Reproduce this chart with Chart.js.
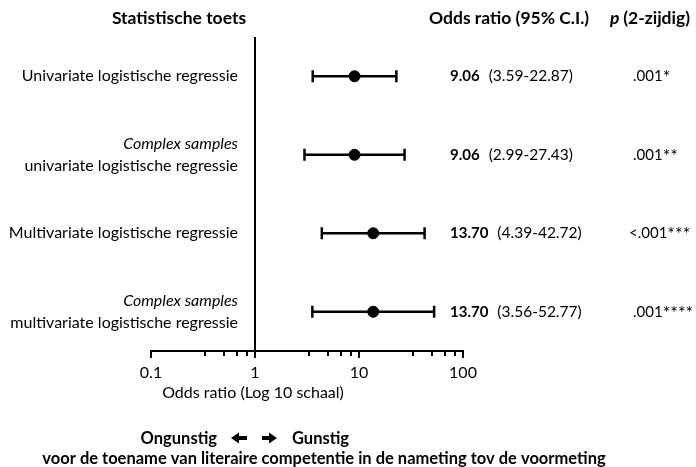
<!DOCTYPE html>
<html>
<head>
<meta charset="utf-8">
<script src="https://cdn.jsdelivr.net/npm/chart.js@4.4.1/dist/chart.umd.min.js"></script>
<style>
  body { margin: 0; background: #fff; }
  #wrap { width: 696px; height: 467px; }
</style>
</head>
<body>
<div id="wrap"><canvas id="forest"></canvas></div>
<script>
// data for the forest plot
const rowTitles = ["", "Complex samples", "", "Complex samples"];
const rowLabels = [
    "Univariate logistische regressie",
    "univariate logistische regressie",
    "Multivariate logistische regressie",
    "multivariate logistische regressie"
];
const oddsRatios = [9.06, 9.06, 13.70, 13.70];
const ciLow = [3.59, 2.99, 4.39, 3.56];
const ciHigh = [22.87, 27.43, 42.72, 52.77];
const pValues = [".001", ".001", "<.001", ".001"];
const pStars = ["*", "**", "***", "****"];

// x axis ticks (log scale)
const majorTicks = [0.1, 1, 10, 100];
const minorTicks = [0.33, 0.5, 0.67, 0.84, 3.3, 5, 6.7, 8.4, 33, 50, 67, 84];

const FONT = "Lato, 'Open Sans', sans-serif";
const REG = "16px " + FONT;
const BOLD = "bold 17.5px " + FONT;

// one dataset per row for the CI whiskers
const datasets = [];
for (let i = 0; i < oddsRatios.length; i++) {
    datasets.push({
        type: "line",
        data: [{ x: ciLow[i], y: i + 1 }, { x: ciHigh[i], y: i + 1 }],
        borderColor: "#000",
        borderWidth: 2.5,
        showLine: true,
        pointStyle: "line",
        rotation: 90,
        pointRadius: 6,
        pointBorderWidth: 2.5,
        pointBorderColor: "#000"
    });
}
// the odds ratio dots
datasets.push({
    type: "scatter",
    data: oddsRatios.map((v, i) => ({ x: v, y: i + 1 })),
    backgroundColor: "#000",
    borderColor: "#000",
    pointRadius: 5.5
});

// minor/major tick marks under the axis
const tickPlugin = {
    id: "tickMarks",
    afterDraw(chart) {
        const ctx = chart.ctx;
        const xs = chart.scales.x;
        const yAxis = chart.chartArea.bottom;
        ctx.save();
        ctx.strokeStyle = "#000";
        ctx.lineWidth = 2;
        majorTicks.concat(minorTicks).forEach(v => {
            const px = Math.round(xs.getPixelForValue(v));
            const len = majorTicks.includes(v) ? 7 : 5;
            ctx.beginPath();
            ctx.moveTo(px, yAxis);
            ctx.lineTo(px, yAxis + len);
            ctx.stroke();
        });
        ctx.restore();
    }
};

// thick arrow like the wingdings one, dir = -1 left, 1 right
function drawArrow(ctx, x0, x1, y, dir) {
    const tip = dir < 0 ? x0 : x1;
    const tail = dir < 0 ? x1 : x0;
    const head = tip - dir * 8;
    ctx.beginPath();
    ctx.moveTo(tail, y - 2);
    ctx.lineTo(head, y - 2);
    ctx.lineTo(head, y - 5.5);
    ctx.lineTo(tip, y);
    ctx.lineTo(head, y + 5.5);
    ctx.lineTo(head, y + 2);
    ctx.lineTo(tail, y + 2);
    ctx.closePath();
    ctx.fill();
}

// all the table text around the plot
const textPlugin = {
    id: "tableText",
    afterDraw(chart) {
        const ctx = chart.ctx;
        const ys = chart.scales.y;
        ctx.save();
        ctx.fillStyle = "#000";
        ctx.textBaseline = "middle";

        // headers
        ctx.font = BOLD;
        ctx.textAlign = "center";
        ctx.fillText("Statistische toets", 179, 18);
        ctx.textAlign = "left";
        ctx.fillText("Odds ratio (95% C.I.)", 429, 18);
        ctx.font = "italic " + BOLD;
        ctx.fillText("p", 610, 18);
        const pw = ctx.measureText("p ").width;
        ctx.font = BOLD;
        ctx.fillText("(2-zijdig)", 610 + pw, 18);

        for (let i = 0; i < rowLabels.length; i++) {
            const y = ys.getPixelForValue(i + 1);

            // row labels
            ctx.textAlign = "right";
            if (rowTitles[i]) {
                ctx.font = "italic " + REG;
                ctx.fillText(rowTitles[i], 238, y - 11);
                ctx.font = REG;
                ctx.fillText(rowLabels[i], 238, y + 11);
            } else {
                ctx.font = REG;
                ctx.fillText(rowLabels[i], 238, y);
            }

            // odds ratio + CI
            ctx.textAlign = "left";
            ctx.font = "bold 15px " + FONT;
            const orText = oddsRatios[i].toFixed(2);
            ctx.fillText(orText, 450, y);
            const w = ctx.measureText(orText).width;
            ctx.font = "15.5px " + FONT;
            ctx.fillText("(" + ciLow[i].toFixed(2) + "-" + ciHigh[i].toFixed(2) + ")", 450 + w + 9, y);

            // p value, stars a bit bigger like the original
            ctx.font = "15px " + FONT;
            const pStart = pValues[i].startsWith("<") ? 629 : 633;
            ctx.fillText(pValues[i], pStart, y);
            const pw2 = ctx.measureText(pValues[i]).width;
            ctx.font = "18px " + FONT;
            ctx.fillText(pStars[i], pStart + pw2, y + 1);
        }

        // axis title + footer
        ctx.textAlign = "center";
        ctx.font = REG;
        ctx.fillText("Odds ratio (Log 10 schaal)", 253, 393);

        ctx.font = "bold 16.5px " + FONT;
        ctx.textAlign = "right";
        ctx.fillText("Ongunstig", 217, 439);
        ctx.textAlign = "left";
        ctx.fillText("Gunstig", 292, 439);
        drawArrow(ctx, 231, 247, 438, -1);
        drawArrow(ctx, 262, 277, 438, 1);

        ctx.textAlign = "center";
        ctx.fillText("voor de toename van literaire competentie in de nameting tov de voormeting", 324, 459);
        ctx.restore();
    }
};

new Chart(document.getElementById("forest"), {
    data: { datasets: datasets },
    plugins: [tickPlugin, textPlugin],
    options: {
        responsive: true,
        maintainAspectRatio: false,
        animation: false,
        layout: {
            padding: { left: 151, right: 233, top: 37, bottom: 86 }
        },
        plugins: {
            legend: { display: false },
            tooltip: { enabled: false }
        },
        scales: {
            x: {
                type: "logarithmic",
                min: 0.1,
                max: 100,
                afterBuildTicks: scale => {
                    scale.ticks = majorTicks.map(v => ({ value: v, major: true }));
                },
                afterFit: scale => { scale.height = 30; },
                border: { display: true, color: "#000", width: 2 },
                grid: {
                    drawTicks: false,
                    lineWidth: 2,
                    color: ctx => (ctx.tick && ctx.tick.value === 1) ? "#000" : "rgba(0,0,0,0)"
                },
                ticks: {
                    autoSkip: false,
                    maxRotation: 0,
                    padding: 12,
                    color: "#000",
                    font: { family: FONT, size: 16 },
                    callback: value => String(value)
                }
            },
            y: {
                type: "linear",
                display: false,
                reverse: true,
                min: 0.5,
                max: 4.5
            }
        }
    }
});
</script>
</body>
</html>
